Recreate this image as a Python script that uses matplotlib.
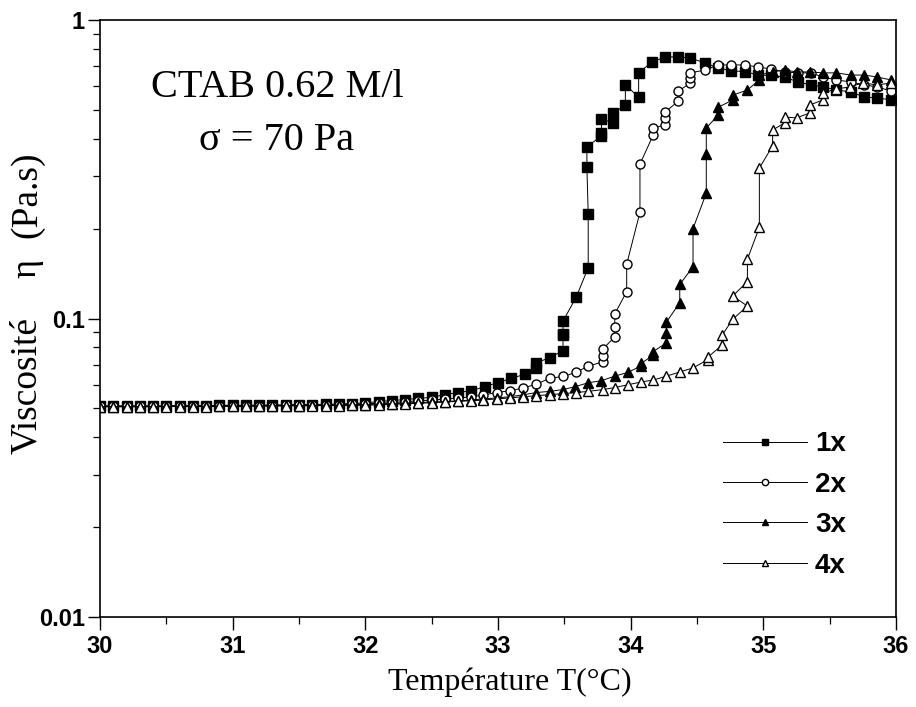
import matplotlib
matplotlib.use("Agg")
import matplotlib.pyplot as plt
from matplotlib.ticker import FixedLocator, NullFormatter, FixedFormatter, MultipleLocator

# Viscosité vs température, CTAB 0.62 M/l, quatre passages (1x..4x)
t_1x = [30.0, 30.1, 30.2, 30.3, 30.4, 30.5, 30.6, 30.7, 30.8, 30.9,
        31.0, 31.1, 31.2, 31.3, 31.4, 31.5, 31.6, 31.7, 31.8, 31.9,
        32.0, 32.1, 32.2, 32.3, 32.4, 32.5, 32.6, 32.7, 32.8, 32.9,
        33.0, 33.1, 33.2, 33.29, 33.29, 33.39, 33.49, 33.49, 33.49, 33.49,
        33.59, 33.68, 33.68, 33.67, 33.67, 33.78, 33.78, 33.78, 33.87, 33.87,
        33.96, 33.96, 34.06, 34.06, 34.16, 34.26, 34.36, 34.45, 34.56, 34.66,
        34.76, 34.86, 34.96, 35.06, 35.16, 35.26, 35.36, 35.45, 35.55, 35.66,
        35.76, 35.86, 35.96]
eta_1x = [0.0510, 0.0510, 0.0510, 0.0510, 0.0510, 0.0510, 0.0511, 0.0511, 0.0511, 0.0512,
          0.0512, 0.0512, 0.0513, 0.0513, 0.0514, 0.0515, 0.0515, 0.0516, 0.0517, 0.0519,
          0.0521, 0.0527, 0.0531, 0.0535, 0.0540, 0.0544, 0.0556, 0.0565, 0.0573, 0.0591,
          0.0610, 0.0630, 0.0650, 0.0680, 0.0710, 0.0740, 0.0780, 0.0880, 0.0890, 0.0980,
          0.118, 0.148, 0.224, 0.322, 0.376, 0.409, 0.418, 0.466, 0.452, 0.488,
          0.519, 0.606, 0.552, 0.665, 0.723, 0.752, 0.752, 0.746, 0.718, 0.691,
          0.675, 0.672, 0.654, 0.652, 0.644, 0.620, 0.606, 0.597, 0.583, 0.574,
          0.552, 0.548, 0.540]

t_2x = [30.0, 30.1, 30.2, 30.3, 30.4, 30.5, 30.6, 30.7, 30.8, 30.9,
        31.0, 31.1, 31.2, 31.3, 31.4, 31.5, 31.6, 31.7, 31.8, 31.9,
        32.0, 32.1, 32.2, 32.3, 32.4, 32.5, 32.6, 32.7, 32.8,
        32.89, 32.99, 33.09, 33.19, 33.29, 33.39, 33.49, 33.59, 33.68,
        33.79, 33.79, 33.79, 33.88, 33.88, 33.88, 33.97, 33.97, 34.07, 34.07,
        34.17, 34.17, 34.26, 34.26, 34.26, 34.36, 34.36, 34.45, 34.45, 34.45,
        34.56, 34.66, 34.76, 34.86, 34.96, 35.06, 35.16, 35.26, 35.36, 35.45,
        35.55, 35.66, 35.76, 35.86, 35.96]
eta_2x = [0.0508, 0.0508, 0.0508, 0.0508, 0.0508, 0.0508, 0.0509, 0.0509, 0.0509, 0.0510,
          0.0510, 0.0510, 0.0511, 0.0511, 0.0512, 0.0512, 0.0513, 0.0514, 0.0515, 0.0516,
          0.0518, 0.0520, 0.0523, 0.0526, 0.0530, 0.0533, 0.0537, 0.0541, 0.0547,
          0.0554, 0.0565, 0.0573, 0.0585, 0.0603, 0.0630, 0.0640, 0.0660, 0.0693,
          0.0715, 0.0749, 0.0790, 0.0868, 0.0937, 0.1036, 0.123, 0.152, 0.227, 0.329,
          0.412, 0.435, 0.445, 0.469, 0.492, 0.535, 0.578, 0.615, 0.640, 0.665,
          0.680, 0.707, 0.707, 0.707, 0.696, 0.685, 0.670, 0.665, 0.665, 0.644,
          0.630, 0.620, 0.606, 0.597, 0.578]

t_3x = [30.0, 30.1, 30.2, 30.3, 30.4, 30.5, 30.6, 30.7, 30.8, 30.9,
        31.0, 31.1, 31.2, 31.3, 31.4, 31.5, 31.6, 31.7, 31.8, 31.9,
        32.0, 32.1, 32.2, 32.3, 32.4, 32.5, 32.6, 32.7, 32.8,
        32.89, 32.99, 33.09, 33.19, 33.29, 33.39, 33.49, 33.58, 33.68, 33.78,
        33.88, 33.98, 34.08, 34.08, 34.17, 34.17, 34.27, 34.27, 34.27, 34.37,
        34.37, 34.47, 34.47, 34.57, 34.57, 34.57, 34.66, 34.66, 34.77, 34.77,
        34.88, 34.97, 34.97, 35.07, 35.16, 35.25, 35.35, 35.45, 35.55, 35.66,
        35.76, 35.86, 35.96]
eta_3x = [0.0507, 0.0507, 0.0507, 0.0507, 0.0507, 0.0508, 0.0508, 0.0508, 0.0508, 0.0509,
          0.0509, 0.0509, 0.0510, 0.0510, 0.0511, 0.0511, 0.0512, 0.0512, 0.0513, 0.0514,
          0.0515, 0.0517, 0.0519, 0.0521, 0.0523, 0.0525, 0.0527, 0.0530, 0.0533,
          0.0538, 0.0542, 0.0547, 0.0555, 0.0565, 0.0570, 0.0578, 0.0591, 0.0609, 0.0619,
          0.0641, 0.0660, 0.0694, 0.0707, 0.0755, 0.0775, 0.0829, 0.0894, 0.0973, 0.113,
          0.130, 0.149, 0.200, 0.263, 0.356, 0.435, 0.480, 0.510, 0.540, 0.560,
          0.583, 0.630, 0.654, 0.670, 0.680, 0.670, 0.670, 0.665, 0.665, 0.654,
          0.654, 0.644, 0.630]

t_4x = [30.0, 30.1, 30.2, 30.3, 30.4, 30.5, 30.6, 30.7, 30.8, 30.9,
        31.0, 31.1, 31.2, 31.3, 31.4, 31.5, 31.6, 31.7, 31.8, 31.9,
        32.0, 32.1, 32.2, 32.3, 32.4, 32.5, 32.6, 32.7, 32.8,
        32.89, 32.99, 33.09, 33.19, 33.29, 33.39, 33.49, 33.59, 33.68, 33.79,
        33.88, 33.98, 34.08, 34.17, 34.27, 34.37, 34.47, 34.58, 34.58, 34.69,
        34.69, 34.77, 34.88, 34.77, 34.88, 34.88, 34.97, 34.97, 35.07, 35.07,
        35.16, 35.16, 35.25, 35.35, 35.35, 35.45, 35.45, 35.55, 35.65, 35.75,
        35.86, 35.96]
eta_4x = [0.0506, 0.0506, 0.0506, 0.0506, 0.0506, 0.0507, 0.0507, 0.0507, 0.0507, 0.0508,
          0.0508, 0.0508, 0.0509, 0.0509, 0.0510, 0.0510, 0.0510, 0.0511, 0.0511, 0.0512,
          0.0512, 0.0514, 0.0516, 0.0518, 0.0520, 0.0522, 0.0525, 0.0528, 0.0530,
          0.0533, 0.0538, 0.0542, 0.0547, 0.0551, 0.0556, 0.0560, 0.0565, 0.0570, 0.0578,
          0.0587, 0.0600, 0.0613, 0.0622, 0.0641, 0.0662, 0.0683, 0.0727, 0.0741, 0.0815,
          0.0880, 0.0995, 0.110, 0.119, 0.133, 0.158, 0.202, 0.319, 0.379, 0.428,
          0.452, 0.473, 0.470, 0.488, 0.519, 0.540, 0.570, 0.587, 0.597, 0.615,
          0.606, 0.615]

series = [
    (t_1x, eta_1x, "1x", "s", "black"),
    (t_2x, eta_2x, "2x", "o", "white"),
    (t_3x, eta_3x, "3x", "^", "black"),
    (t_4x, eta_4x, "4x", "^", "white"),
]

W, H = 916, 707
fig = plt.figure(figsize=(W / 100, H / 100), dpi=100)
ax = fig.add_axes([100 / W, 1 - 617 / H, 796 / W, 597 / H])

handles = []
for t, eta, lab, mk, fc in series:
    assert len(t) == len(eta), lab
    h, = ax.plot(t, eta, color="black", lw=0.7, marker=mk, ms=6.5,
                 mfc=fc, mec="black", mew=1.0, label=lab)
    handles.append(h)

ax.set_yscale("log")
ax.set_xlim(30, 36)
ax.set_ylim(0.01, 1)

ax.xaxis.set_major_locator(MultipleLocator(1))
ax.xaxis.set_minor_locator(MultipleLocator(0.5))
ax.yaxis.set_major_locator(FixedLocator([0.01, 0.1, 1]))
ax.yaxis.set_major_formatter(FixedFormatter(["0.01", "0.1", "1"]))
ax.yaxis.set_minor_locator(FixedLocator([k * 10.0 ** e for e in (-2, -1) for k in range(2, 10)]))
ax.yaxis.set_minor_formatter(NullFormatter())

tick_font = dict(family="Liberation Sans", weight="bold", size=17)
for lbl in ax.get_xticklabels() + ax.get_yticklabels():
    lbl.set_fontproperties(tick_font)
ax.tick_params(axis="both", which="major", direction="out", length=9, width=1.0, pad=2)
ax.tick_params(axis="both", which="minor", direction="out", length=5, width=0.9)
ax.tick_params(axis="x", which="major", pad=4)
for sp in ax.spines.values():
    sp.set_linewidth(1.2)

serif = "Liberation Serif"
fig.text(277 / W, 1 - 97 / H, "CTAB 0.62 M/l", family=serif, size=29,
         ha="center", va="baseline")
fig.text(277 / W, 1 - 150 / H, "σ = 70 Pa", family=serif, size=29,
         ha="center", va="baseline")

fig.text(510 / W, 1 - 690 / H, "Température T(°C)", family=serif, size=23,
         ha="center", va="baseline")
fig.text(27 / W, 1 - 385 / H, "Viscosité", family=serif, size=27,
         rotation=90, ha="center", va="center")
fig.text(27 / W, 1 - 268 / H, "η", family=serif, size=26,
         rotation=90, ha="center", va="center")
fig.text(27 / W, 1 - 195 / H, "(Pa.s)", family=serif, size=27,
         rotation=90, ha="center", va="center")

ax.legend(handles, [h.get_label() for h in handles], loc="upper left",
          bbox_to_anchor=(0.783, 0.311), frameon=False, borderpad=0,
          borderaxespad=0, handlelength=3.0, handletextpad=0.3,
          labelspacing=0.52, markerscale=0.7, numpoints=1,
          prop=dict(family="Liberation Sans", weight="bold", size=20))

fig.savefig("out.png", dpi=100)
